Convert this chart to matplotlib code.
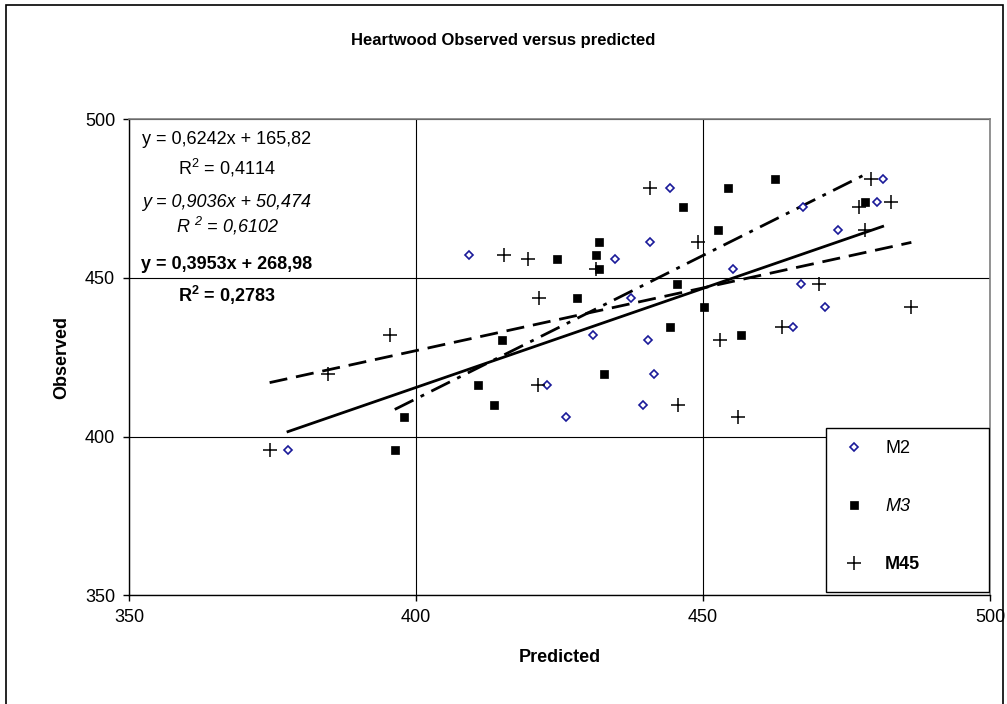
import matplotlib
matplotlib.use('Agg')
import matplotlib.pyplot as plt
from matplotlib.patches import Rectangle
import numpy as np

plt.rcParams['font.family'] = ['Liberation Sans', 'DejaVu Sans']
plt.rcParams['mathtext.default'] = 'regular'

# ---- data ----
observed = [395.8, 406.3, 410.0, 416.4, 419.8, 430.5, 432.0, 434.7, 441.0, 443.7,
            448.1, 452.9, 455.9, 457.1, 461.2, 465.2, 472.3, 473.8, 478.3, 481.3]
pred_m2 = [377.7, 426.2, 439.5, 422.9, 441.4, 440.4, 430.9, 465.6, 471.2, 437.5,
           467.0, 455.3, 434.6, 409.3, 440.8, 473.5, 467.5, 480.4, 444.3, 481.3]
pred_m3 = [396.3, 397.9, 413.6, 410.8, 432.8, 414.9, 456.6, 444.2, 450.2, 428.1,
           445.5, 431.8, 424.6, 431.4, 431.8, 452.7, 446.5, 478.2, 454.4, 462.6]
pred_m45 = [374.5, 456.1, 445.6, 421.3, 384.6, 453.0, 395.4, 463.7, 486.3, 421.4,
            470.2, 431.3, 419.5, 415.4, 449.2, 478.2, 477.1, 482.8, 440.7, 479.2]
series_names = ['M2', 'M3', 'M45']
slopes = [0.6242, 0.9036, 0.3953]
intercepts = [165.82, 50.474, 268.98]
r2_values = ['0,4114', '0,6102', '0,2783']
eq_texts = ['y = 0,6242x + 165,82', 'y = 0,9036x + 50,474', 'y = 0,3953x + 268,98']
axis_ticks = [350, 400, 450, 500]

W, H = 1007, 704
fig = plt.figure(figsize=(W / 100, H / 100), dpi=100)
fig.patch.set_facecolor('white')

L, R, T, B = 129, 990, 119.3, 595.3
ax = fig.add_axes([L / W, 1 - B / H, (R - L) / W, (B - T) / H])
ax.set_xlim(350, 500)
ax.set_ylim(350, 500)
ax.set_xticks(axis_ticks)
ax.set_yticks(axis_ticks)
ax.grid(True, color='black', lw=0.8, zorder=0)
ax.set_axisbelow(True)
ax.tick_params(direction='out', length=4, width=1, labelsize=13, pad=6, color='black')
for s in ['left', 'bottom']:
    ax.spines[s].set_color('black')
    ax.spines[s].set_linewidth(1)
for s in ['top', 'right']:
    ax.spines[s].set_color('#808080')
    ax.spines[s].set_linewidth(1.2)

preds = [pred_m2, pred_m3, pred_m45]
# trend lines
styles = [dict(ls='-'), dict(dashes=(7.5, 2.9, 1.4, 2.9)), dict(dashes=(6.5, 3.2))]
for p, m, c, st in zip(preds, slopes, intercepts, styles):
    xs = np.array([min(p), max(p)])
    ax.plot(xs, m * xs + c, color='black', lw=2, zorder=2, **st)

h2, = ax.plot(pred_m2, observed, ls='none', marker='D', ms=4.3, mfc='white',
              mec='#1a1a99', mew=1.2, zorder=3, label=series_names[0])
h3, = ax.plot(pred_m3, observed, ls='none', marker='s', ms=5.6, mfc='black',
              mec='black', mew=0.5, zorder=3, label=series_names[1])
h45, = ax.plot(pred_m45, observed, ls='none', marker='+', ms=9.5, mec='black',
               mew=1.1, zorder=3, label=series_names[2])

# equation labels
cx = (227 - L) / (R - L)
def ay(py):
    return (B - py) / (B - T)
styles_txt = [dict(), dict(style='italic'), dict(weight='bold')]
eq_base = [144, 206.7, 269.3]
r2_base = [174, 232.7, 301.7]
r2_fmt = ['R$^2$ = {}', 'R $^2$ = {}', 'R$^2$ = {}']
for i in range(3):
    ax.text(cx, ay(eq_base[i]), eq_texts[i], transform=ax.transAxes, ha='center',
            va='baseline', fontsize=13, zorder=6, **styles_txt[i])
    ax.text(cx, ay(r2_base[i]), r2_fmt[i].format(r2_values[i]), transform=ax.transAxes,
            ha='center', va='baseline', fontsize=13, zorder=6, **styles_txt[i])

# legend box
ax.add_patch(Rectangle(((825.7 - L) / (R - L), ay(591.7)), (989 - 825.7) / (R - L),
                       (591.7 - 427.7) / (B - T), transform=ax.transAxes,
                       facecolor='white', edgecolor='black', lw=1, zorder=4))
leg = ax.legend(handles=[h2, h3, h45], loc='upper left',
                bbox_to_anchor=((845 - L) / (R - L), ay(440)), frameon=False,
                borderpad=0, borderaxespad=0, handlelength=1.0, handletextpad=1.22,
                labelspacing=2.28, fontsize=13, numpoints=1)
leg.set_zorder(5)
leg.get_texts()[1].set_style('italic')
leg.get_texts()[2].set_weight('bold')

# titles
fig.text(0.5, 1 - 40 / H, 'Heartwood Observed versus predicted', ha='center',
         va='center', fontsize=12, weight='bold')
fig.text((L + R) / 2 / W, 1 - 657 / H, 'Predicted', ha='center', va='center',
         fontsize=13, weight='bold')
fig.text(62 / W, 1 - (T + B) / 2 / H, 'Observed', ha='center', va='center',
         rotation=90, fontsize=13, weight='bold')

# figure border
fig.patches.append(Rectangle((6 / W, -0.02), (1003 - 6) / W, 1 - 5 / H + 0.02,
                             transform=fig.transFigure, fill=False,
                             edgecolor='black', lw=1.2))

fig.savefig('out.png', dpi=100)
